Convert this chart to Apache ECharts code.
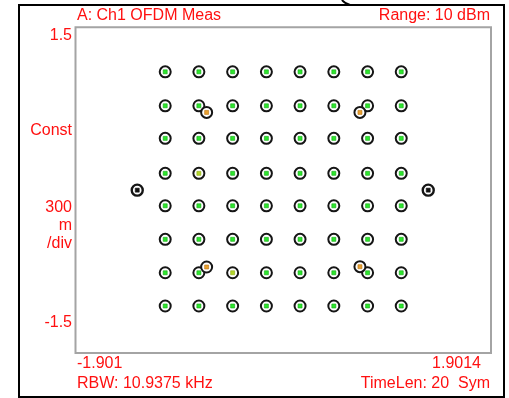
<!DOCTYPE html>
<html>
<head>
<meta charset="utf-8">
<script src="https://cdn.jsdelivr.net/npm/echarts@6/dist/echarts.min.js"></script>
<style>
  html, body { margin: 0; padding: 0; background: #ffffff; }
  #chart { width: 509px; height: 398px; }
</style>
</head>
<body>
<div id="chart"></div>
<script>
// Constellation column (I) and row (Q) positions of the data carriers
const iLevels = [-1.080, -0.772, -0.463, -0.154, 0.154, 0.463, 0.772, 1.080];
const qLevels = [1.090, 0.777, 0.477, 0.155, -0.144, -0.453, -0.761, -1.067];

// Carriers whose centre dot is drawn in the paler (yellow-green) shade
const paleCarriers = [[-0.772, 0.155], [-0.463, -0.761]];

// Secondary symbols (orange) and pilot tones (black)
const orangeSymbols = [[-0.701, 0.716], [0.702, 0.716], [-0.701, -0.708], [0.702, -0.705]];
const pilotSymbols = [[-1.336, 0.0], [1.327, 0.0]];

// Axis span and annotation texts
const iRange = [-1.901, 1.9014];
const qRange = [-1.5, 1.5];
const iEdgeLabels = ['-1.901', '1.9014'];
const qEdgeLabels = ['1.5', '-1.5'];
const scaleLabels = ['Const', '300', 'm', '/div'];
const headerLeft = 'A: Ch1 OFDM Meas';
const headerRight = 'Range: 10 dBm';
const footerLeft = 'RBW: 10.9375 kHz';
const footerRight = 'TimeLen: 20  Sym';

const carriers = [];
qLevels.forEach(q => iLevels.forEach(i => carriers.push([i, q])));
const isPale = p => paleCarriers.some(c => c[0] === p[0] && c[1] === p[1]);
const greenCentres = carriers.filter(p => !isPale(p));

const RED = '#ff1010';
const FONT = '"Liberation Sans", Arial, sans-serif';
const txt = (x, y, text, align) => ({
  type: 'text', x: x, y: y, silent: true,
  style: { text: text, fill: RED, font: '16px ' + FONT, align: align, verticalAlign: 'middle' }
});

const ring = (data, color, width, z) => ({
  type: 'scatter', data: data, symbol: 'circle', symbolSize: 11, z: z,
  itemStyle: { color: '#ffffff', borderColor: color, borderWidth: width, opacity: 1 },
  emphasis: { disabled: true }, silent: true
});
const dot = (data, color, border, size, z) => ({
  type: 'scatter', data: data, symbol: 'rect', symbolSize: size, z: z,
  itemStyle: { color: color, borderColor: border, borderWidth: 0.6, opacity: 1 },
  emphasis: { disabled: true }, silent: true
});

const chart = echarts.init(document.getElementById('chart'), null, { renderer: 'canvas' });
chart.setOption({
  animation: false,
  backgroundColor: '#ffffff',
  grid: {
    left: 75.5, top: 27.3, width: 415.5, height: 325.7,
    show: true, borderColor: '#a4a4a4', borderWidth: 2, backgroundColor: '#ffffff'
  },
  xAxis: {
    type: 'value', min: iRange[0], max: iRange[1],
    axisLine: { show: false }, axisTick: { show: false },
    axisLabel: { show: false }, splitLine: { show: false }
  },
  yAxis: {
    type: 'value', min: qRange[0], max: qRange[1],
    axisLine: { show: false }, axisTick: { show: false },
    axisLabel: { show: false }, splitLine: { show: false }
  },
  series: [
    ring(carriers, '#151515', 2, 2),
    dot(greenCentres, '#2ee62e', '#14a814', 4, 3),
    dot(paleCarriers, '#b4d62a', '#8aa818', 4, 3),
    ring(orangeSymbols, '#151515', 2, 4),
    dot(orangeSymbols, '#e8a030', '#b87410', 4, 5),
    ring(pilotSymbols, '#151515', 2.4, 4),
    dot(pilotSymbols, '#111111', '#111111', 4, 5)
  ],
  graphic: [
    { type: 'rect', silent: true, shape: { x: 19, y: 5, width: 485, height: 392 },
      style: { fill: 'none', stroke: '#000000', lineWidth: 2 } },
    { type: 'bezierCurve', silent: true,
      shape: { x1: 342, y1: 0, x2: 350, y2: 5, cpx1: 344, cpy1: 3 },
      style: { fill: 'none', stroke: '#000000', lineWidth: 2 } },
    txt(77, 16, headerLeft, 'left'),
    txt(490, 16, headerRight, 'right'),
    txt(72, 36, qEdgeLabels[0], 'right'),
    txt(72, 131, scaleLabels[0], 'right'),
    txt(72, 208, scaleLabels[1], 'right'),
    txt(72, 226, scaleLabels[2], 'right'),
    txt(72, 244, scaleLabels[3], 'right'),
    txt(72, 323, qEdgeLabels[1], 'right'),
    txt(77, 364, iEdgeLabels[0], 'left'),
    txt(481, 364, iEdgeLabels[1], 'right'),
    txt(77, 384, footerLeft, 'left'),
    txt(490, 384, footerRight, 'right')
  ]
});
</script>
</body>
</html>
